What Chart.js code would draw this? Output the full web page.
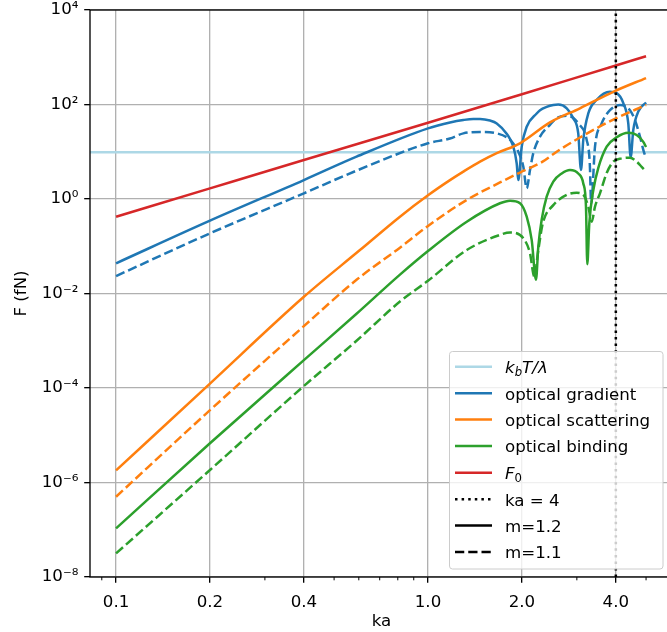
<!DOCTYPE html>
<html><head><meta charset="utf-8">
<script src="https://cdn.jsdelivr.net/npm/chart.js@4.4.0/dist/chart.umd.min.js"></script>
<style>
html,body{margin:0;padding:0;overflow:hidden;background:#fff;}
#wrap{position:relative;width:667px;height:632px;overflow:hidden;}
#c{position:absolute;left:0;top:0;}
#lg{position:absolute;left:0;top:0;}
</style></head>
<body><div id="wrap"><canvas id="c" width="680" height="632" style="width:680px;height:632px"></canvas>
<svg id="lg" width="667" height="632" font-family="'DejaVu Sans', sans-serif" font-size="16.67">
<rect x="449.5" y="351.5" width="213.5" height="217.5" rx="3" ry="3" fill="#ffffff" fill-opacity="0.8" stroke="#cccccc" stroke-width="1"/>
<g stroke-width="2.5" fill="none">
<line x1="455" x2="492" y1="366.7" y2="366.7" stroke="#add8e6"/>
<line x1="455" x2="492" y1="393.3" y2="393.3" stroke="#1f77b4"/>
<line x1="455" x2="492" y1="419.5" y2="419.5" stroke="#ff7f0e"/>
<line x1="455" x2="492" y1="446" y2="446" stroke="#2ca02c"/>
<line x1="455" x2="492" y1="472.7" y2="472.7" stroke="#d62728"/>
<line x1="455" x2="492" y1="499.3" y2="499.3" stroke="#000" stroke-dasharray="2.5 4.1"/>
<line x1="455" x2="492" y1="525.5" y2="525.5" stroke="#000"/>
<line x1="455" x2="492" y1="552" y2="552" stroke="#000" stroke-dasharray="9.25 4"/>
</g>
<g fill="#000">
<text x="505" y="372.5"><tspan font-style="italic">k</tspan><tspan font-style="italic" font-size="11.7" dy="3.5">b</tspan><tspan font-style="italic" dy="-3.5">T</tspan><tspan font-style="italic">/λ</tspan></text>
<text x="505" y="399.5">optical gradient</text>
<text x="505" y="425.7">optical scattering</text>
<text x="505" y="452.2">optical binding</text>
<text x="505" y="478.5"><tspan font-style="italic">F</tspan><tspan font-size="11.7" dy="3.5">0</tspan></text>
<text x="505" y="505.5">ka = 4</text>
<text x="505" y="531.7">m=1.2</text>
<text x="505" y="558.2">m=1.1</text>
</g>
</svg></div>
<script>
// ---- data ----
const kaGrad12 = [0.1,0.2,0.4,0.59,1.0,1.176,1.298,1.397,1.468,1.58,1.661,1.787,1.877,1.924,1.947,1.997,2.072,2.23,2.286,2.401,2.521,2.616,2.784,2.922,3.031,3.093,3.146,3.264,3.473,3.831,4.026,4.227,4.385,4.463,4.55,4.721,5.0];
const fGrad12  = [0.0436,0.348,2.52,7.87,31.3,41.7,47.0,49.3,49.3,45.7,39.8,24.0,12.8,5.70,2.51,12.8,33.9,64.6,75.9,89.1,97.7,100,83.2,51.3,24.5,4.11,17.8,64.6,126,186,174,107,39.8,7.6,28.8,70.8,110];

const kaGrad11 = [0.1,0.2,0.4,0.59,1.0,1.176,1.298,1.468,1.661,1.832,1.947,2.021,2.072,2.123,2.175,2.286,2.46,2.585,2.817,3.031,3.226,3.30,3.335,3.43,3.603,3.831,4.125,4.44,4.607,4.781,4.899,5.0];
const fGrad11  = [0.0234,0.1875,1.318,3.98,15.1,19.1,24.5,26.3,24.5,17.8,10.0,4.79,1.68,4.11,9.33,20.9,37.2,51.3,57.5,39.8,17.8,5.7,0.8,12.8,39.8,75.9,97.7,75.9,46.8,20.9,11.0,7.24];

const kaScat12 = [0.1,0.2,0.4,0.605,0.813,1.0,1.176,1.298,1.468,1.661,1.972,2.46,3.07,3.926,5.0];
const fScat12  = [1.80e-6,1.24e-4,8.51e-3,0.083,0.423,1.20,2.51,3.80,6.17,9.33,15.1,41.7,83.2,186,363];

const kaScat11 = [0.1,0.2,0.4,0.59,0.813,1.0,1.331,1.701,1.972,2.33,2.585,3.07,3.926,5.0];
const fScat11  = [5.0e-7,3.39e-5,2.04e-3,0.0195,0.0933,0.269,0.955,2.24,3.63,6.17,10.0,20.0,47.9,97.7];

const kaBind12 = [0.1,0.2,0.4,0.59,0.813,1.0,1.331,1.701,1.832,1.972,2.072,2.15,2.219,2.257,2.314,2.401,2.521,2.683,2.852,3.031,3.146,3.209,3.24,3.289,3.388,3.515,3.739,4.026,4.385,4.665,4.899,5.0];
const fBind12  = [1.07e-7,6.76e-6,3.89e-4,3.72e-3,0.0251,0.0794,0.331,0.813,0.923,0.813,0.422,0.135,0.0195,0.0977,0.363,1.12,2.34,3.47,4.11,3.47,2.14,0.692,0.0417,0.309,1.55,4.57,12.8,20.2,25.1,22.6,16.2,12.6];

const kaBind11 = [0.1,0.2,0.4,0.59,0.813,1.0,1.331,1.701,1.832,2.021,2.123,2.191,2.257,2.334,2.521,2.784,2.996,3.146,3.264,3.347,3.43,3.558,3.739,3.926,4.177,4.44,4.665,4.841,5.0];
const fBind11  = [3.16e-8,1.84e-6,1.10e-4,1.0e-3,6.76e-3,0.0186,0.0832,0.174,0.195,0.148,0.0708,0.0229,0.0832,0.309,0.741,1.22,1.35,1.22,0.692,0.331,0.692,1.32,3.55,6.17,7.24,7.50,6.17,4.79,3.80];

const kaF0 = [0.1,0.2,0.4,1.0,2.0,4.0,5.0];
const fF0  = [0.42,1.68,6.7,41,165,670,1050];

const kaThermal = [0.0825,6.1];
const fThermal  = [9.8,9.8];

const kaMark = [4,4];
const fMark  = [1e-8,1e4];

const xTickValues = [0.1,0.2,0.4,1,2,4];
const xTickLabels = ['0.1','0.2','0.4','1.0','2.0','4.0'];
const xMinorTicks = [0.09,0.3,0.5,0.6,0.7,0.8,0.9,3,5,6];
const yTickValues = [1e-8,1e-6,1e-4,1e-2,1,1e2,1e4];
const yTickLabels = ['10\u207B\u2078','10\u207B\u2076','10\u207B\u2074','10\u207B\u00B2','10\u2070','10\u00B2','10\u2074'];

// ---- chart ----
const FONT = "'DejaVu Sans', sans-serif";
Chart.defaults.font.family = FONT;
Chart.defaults.font.size = 16.67;
Chart.defaults.color = '#000';

const LW = 2.5, DASH = [9.25, 4], DOT = [2.5, 4.1];
function pts(xs, ys){ return xs.map((x,i)=>({x:x, y:ys[i]})); }
function ds(label, xs, ys, color, dash, order){
  return {label, data: pts(xs,ys), borderColor: color, backgroundColor: color, borderWidth: LW,
    borderDash: dash, pointRadius: 0, pointHoverRadius: 0, fill: false,
    cubicInterpolationMode: 'monotone', borderJoinStyle: 'round', order};
}

const frame = {
  id: 'frame',
  afterDraw(chart){
    const {ctx, chartArea: a, scales: {x}} = chart;
    ctx.save();
    ctx.strokeStyle = '#000';
    ctx.lineWidth = 1;
    xMinorTicks.forEach(v => {
      const px = x.getPixelForValue(v);
      ctx.beginPath(); ctx.moveTo(px, a.bottom); ctx.lineTo(px, a.bottom + 3.3); ctx.stroke();
    });
    ctx.lineWidth = 1.33;
    ctx.strokeRect(a.left, a.top, a.right - a.left, a.bottom - a.top);
    ctx.restore();
  }
};

function noPad(s){ s.paddingTop = 0; s.paddingBottom = 0; s.paddingLeft = 0; s.paddingRight = 0; }

new Chart(document.getElementById('c'), {
  type: 'line',
  data: { datasets: [
    ds('k_bT/λ', kaThermal, fThermal, '#add8e6', [], 7),
    ds('optical gradient m=1.2', kaGrad12, fGrad12, '#1f77b4', [], 6),
    ds('optical gradient m=1.1', kaGrad11, fGrad11, '#1f77b4', DASH, 6),
    ds('optical scattering m=1.2', kaScat12, fScat12, '#ff7f0e', [], 5),
    ds('optical scattering m=1.1', kaScat11, fScat11, '#ff7f0e', DASH, 5),
    ds('optical binding m=1.2', kaBind12, fBind12, '#2ca02c', [], 4),
    ds('optical binding m=1.1', kaBind11, fBind11, '#2ca02c', DASH, 4),
    ds('F_0', kaF0, fF0, '#d62728', [], 2),
    ds('ka = 4', kaMark, fMark, '#000000', DOT, 1)
  ]},
  options: {
    responsive: false, animation: false, devicePixelRatio: 1,
    layout: { padding: { top: 10, right: 7, left: 0, bottom: 0 } },
    plugins: { legend: { display: false }, tooltip: { enabled: false } },
    events: [],
    scales: {
      x: {
        type: 'logarithmic', min: 0.0825, max: 6.1, position: 'bottom',
        afterBuildTicks: s => { s.ticks = xTickValues.map(v => ({value: v})); },
        afterFit: s => { s.height = 55; noPad(s); },
        ticks: { autoSkip: false, maxRotation: 0, minRotation: 0, padding: 10,
          callback: (v, i) => xTickLabels[i] },
        grid: { color: '#b0b0b0', lineWidth: 1.33, tickColor: '#000', tickLength: 5.8, tickWidth: 1.33 },
        border: { display: false },
        title: { display: true, text: 'ka', padding: { top: 0, bottom: 0 } }
      },
      y: {
        type: 'logarithmic', min: 1e-8, max: 1e4,
        afterBuildTicks: s => { s.ticks = yTickValues.map(v => ({value: v})); },
        afterFit: s => { s.width = 90; noPad(s); },
        ticks: { autoSkip: false, padding: 5.8, callback: (v, i) => yTickLabels[i] },
        grid: { color: '#b0b0b0', lineWidth: 1.33, tickColor: '#000', tickLength: 5.8, tickWidth: 1.33 },
        border: { display: false },
        title: { display: true, text: 'F (fN)', padding: { top: 12, bottom: 0 } }
      }
    }
  },
  plugins: [frame]
});
</script>
</body></html>
